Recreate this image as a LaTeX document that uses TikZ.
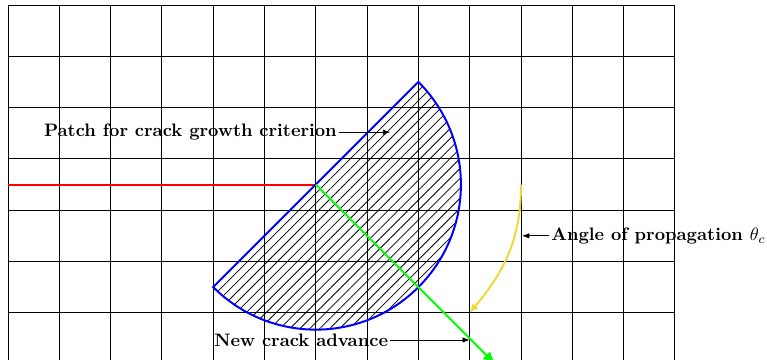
\documentclass[tikz,border=0pt]{standalone}
\usetikzlibrary{patterns.meta,arrows.meta}
\definecolor{angyellow}{rgb}{0.93,0.85,0.22}
\tikzset{
  lbl/.style={font=\bfseries, inner sep=1pt},
  ptr/.style={-{Latex[length=4pt,width=3pt]}, thin},
  heavy/.style={line width=1.1pt}
}
\begin{document}
\begin{tikzpicture}
\useasboundingbox (-0.156,0.08) rectangle (14.795,7.097);
\clip (-0.156,0.08) rectangle (14.795,7.097);
% hatched patch
\fill[pattern={Lines[angle=45, distance=3.9pt, line width=0.45pt]}] (6,3.5) -- (8,5.5) arc[start angle=45, end angle=-135, radius=2.8284] -- cycle;
% grid
\draw[step=1, line width=0.5pt] (0,0) grid (13,7);
% crack and patch outline
\coordinate (tip) at (6,3.5);
\coordinate (crackstart) at (0,3.5);
\coordinate (patchtop) at (8,5.5);
\coordinate (newend) at (9.5,0);
\draw[red, heavy] (crackstart) -- (tip);
\draw[blue, heavy] (tip) -- (patchtop) arc[start angle=45, end angle=-135, radius=2.8284] -- cycle;
\draw[green, heavy, -{Latex[length=7pt,width=6pt]}] (tip) -- (newend);
% angle arc
\coordinate (arcstart) at (10,3.5);
\coordinate (arcend) at (9,1);
\draw[angyellow, heavy, -{Latex[length=5pt,width=4.5pt]}] (arcstart) to[out=-90, in=50] (arcend);
% labels
\node[lbl, anchor=east] (patch) at (6.45,4.52) {Patch for crack growth criterion};
\coordinate (patchpt) at (7.45,4.52);
\draw[ptr] (patch.east) -- (patchpt);
\node[lbl, anchor=east] (newcrack) at (7.45,0.47) {New crack advance};
\coordinate (newpt) at (9.0,0.47);
\draw[ptr] (newcrack.east) -- (newpt);
\node[lbl, anchor=west] (angle) at (10.55,2.5) {Angle of propagation $\theta_c$};
\coordinate (anglept) at (10.02,2.5);
\draw[ptr] (angle.west) -- (anglept);
\end{tikzpicture}
\end{document}
